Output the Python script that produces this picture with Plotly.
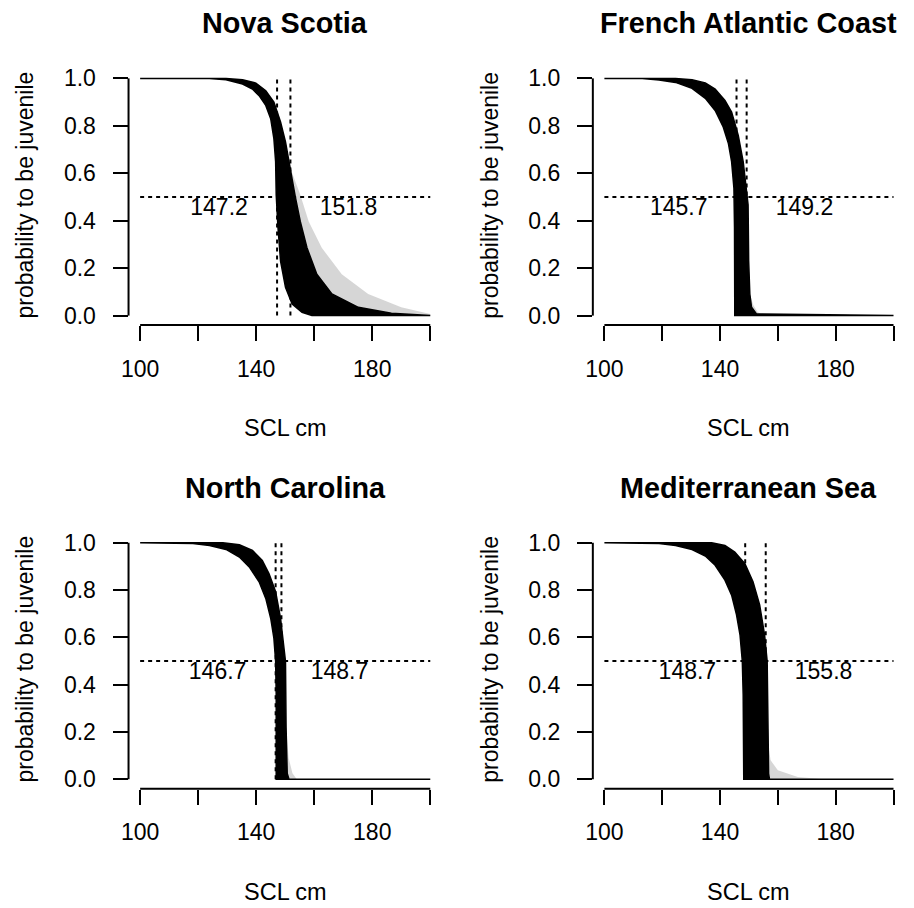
import plotly.graph_objects as go

W, H = 914, 908

# ---------------- data ----------------
titles = ["Nova Scotia", "French Atlantic Coast", "North Carolina", "Mediterranean Sea"]
ci_low = [147.2, 145.7, 146.7, 148.7]
ci_high = [151.8, 149.2, 148.7, 155.8]

x_ticks = [100, 120, 140, 160, 180, 200]
x_ticktext = ["100", "", "140", "", "180", ""]
y_ticks = [0.0, 0.2, 0.4, 0.6, 0.8, 1.0]
y_ticktext = ["0.0", "0.2", "0.4", "0.6", "0.8", "1.0"]

# lower (earliest-dropping) envelope of the bundle of curves
ns_lo_x = [100, 123.9, 129.6, 135.3, 138.7, 141.0, 143.3, 145.0, 146.1, 146.7, 146.9, 147.5, 148.4, 150.1, 152.4, 155.8, 159.2, 200]
ns_lo_y = [1.0, 1.0, 0.994, 0.976, 0.955, 0.927, 0.886, 0.830, 0.746, 0.649, 0.509, 0.374, 0.230, 0.119, 0.049, 0.014, 0.0, 0.0]
# upper (latest-dropping) envelope
ns_hi_x = [100, 129.6, 135.3, 139.9, 143.3, 146.1, 148.4, 150.1, 151.8, 153.5, 155.2, 157.5, 160.9, 166.1, 175.2, 186.6, 200]
ns_hi_y = [1.0, 1.0, 0.994, 0.980, 0.948, 0.900, 0.816, 0.732, 0.621, 0.499, 0.397, 0.286, 0.174, 0.091, 0.035, 0.010, 0.0]
# faint outer tail of a few curves
ns_fr_x = [151.8, 155.2, 158.1, 162.6, 169.5, 178.6, 190.0, 200]
ns_fr_y = [0.621, 0.509, 0.397, 0.286, 0.174, 0.091, 0.035, 0.007]

fa_lo_x = [100, 113.1, 118.9, 124.6, 130.3, 134.9, 138.3, 141.1, 142.9, 144.0, 144.8, 145.0, 145.1, 200]
fa_lo_y = [1.0, 0.999, 0.993, 0.983, 0.958, 0.916, 0.865, 0.795, 0.725, 0.649, 0.537, 0.370, 0.0, 0.0]
fa_hi_x = [100, 124.6, 130.3, 134.9, 138.3, 141.7, 144.0, 146.3, 148.0, 149.1, 149.7, 149.9, 150.3, 150.9, 152.6, 200]
fa_hi_y = [1.0, 1.0, 0.994, 0.981, 0.955, 0.907, 0.858, 0.760, 0.649, 0.537, 0.467, 0.230, 0.091, 0.035, 0.007, 0.0]
fa_fr_x = [150.3, 151.5, 153.0, 155.0]
fa_fr_y = [0.091, 0.045, 0.015, 0.0]

nc_lo_x = [100, 118.2, 123.9, 129.6, 134.2, 137.6, 141.0, 143.3, 145.0, 146.1, 146.7, 146.9, 146.9, 200]
nc_lo_y = [1.0, 0.997, 0.989, 0.972, 0.940, 0.898, 0.835, 0.765, 0.681, 0.597, 0.499, 0.359, 0.0, 0.0]
nc_hi_x = [100, 128.5, 134.2, 138.7, 142.1, 144.4, 146.7, 148.4, 149.5, 150.1, 150.3, 150.7, 151.3, 200]
nc_hi_y = [1.0, 1.0, 0.992, 0.968, 0.926, 0.870, 0.793, 0.681, 0.569, 0.499, 0.220, 0.024, 0.0, 0.0]
nc_fr_x = [150.3, 151.2, 152.5, 154.0]
nc_fr_y = [0.220, 0.090, 0.025, 0.0]

ms_lo_x = [100, 118.9, 124.6, 130.3, 134.9, 138.3, 141.7, 144.0, 145.7, 146.9, 147.7, 148.0, 148.2, 200]
ms_lo_y = [1.0, 0.997, 0.989, 0.972, 0.944, 0.905, 0.842, 0.779, 0.695, 0.611, 0.499, 0.359, 0.0, 0.0]
ms_hi_x = [100, 137.1, 141.7, 145.1, 148.6, 151.4, 153.7, 155.4, 156.3, 156.6, 156.8, 157.1, 200]
ms_hi_y = [1.0, 1.0, 0.989, 0.961, 0.912, 0.835, 0.737, 0.611, 0.499, 0.220, 0.024, 0.0, 0.0]
ms_fr_x = [156.6, 157.5, 160.0, 166.9, 176.0]
ms_fr_y = [0.150, 0.080, 0.038, 0.010, 0.0]

bands = [
    (ns_lo_x, ns_lo_y, ns_hi_x, ns_hi_y, ns_fr_x, ns_fr_y),
    (fa_lo_x, fa_lo_y, fa_hi_x, fa_hi_y, fa_fr_x, fa_fr_y),
    (nc_lo_x, nc_lo_y, nc_hi_x, nc_hi_y, nc_fr_x, nc_fr_y),
    (ms_lo_x, ms_lo_y, ms_hi_x, ms_hi_y, ms_fr_x, ms_fr_y),
]

# ---------------- layout (pixel geometry) ----------------
col_px = [(121.6, 437.7), (590.0, 905.0)]
row_px = [(66.4, 324.6), (534.5, 791.8)]

def px_x(p):
    return p / W

def px_y(p):
    return 1 - p / H

FONT = "Liberation Sans, Arial, Helvetica, sans-serif"
fig = go.Figure()
annotations = []
shapes = []

for i in range(4):
    r, c = divmod(i, 2)
    ax = "" if i == 0 else str(i + 1)
    xa, ya = "x" + ax, "y" + ax
    lo_x, lo_y, hi_x, hi_y, fr_x, fr_y = bands[i]

    # faint tail: fringe curve back along the part of the upper envelope it covers
    seg = [(x, y) for x, y in zip(hi_x, hi_y) if fr_x[0] <= x <= fr_x[-1]]
    tail_x = list(fr_x) + [p[0] for p in seg][::-1]
    tail_y = list(fr_y) + [p[1] for p in seg][::-1]
    fig.add_trace(go.Scatter(
        x=tail_x, y=tail_y,
        fill="toself", fillcolor="rgba(0,0,0,0.16)", line=dict(width=0),
        mode="lines", hoverinfo="skip", showlegend=False, xaxis=xa, yaxis=ya))
    # main black bundle
    fig.add_trace(go.Scatter(
        x=list(lo_x) + list(hi_x)[::-1], y=list(lo_y) + list(hi_y)[::-1],
        fill="toself", fillcolor="black", line=dict(color="black", width=1.5),
        mode="lines", hoverinfo="skip", showlegend=False, xaxis=xa, yaxis=ya))
    # dashed reference lines
    fig.add_trace(go.Scatter(
        x=[x_ticks[0], x_ticks[-1]], y=[0.5, 0.5], mode="lines",
        line=dict(color="black", width=2, dash="4px,4px"),
        hoverinfo="skip", showlegend=False, xaxis=xa, yaxis=ya))
    for v in (ci_low[i], ci_high[i]):
        fig.add_trace(go.Scatter(
            x=[v, v], y=[y_ticks[0], y_ticks[-1]], mode="lines",
            line=dict(color="black", width=2, dash="4px,4px"),
            hoverinfo="skip", showlegend=False, xaxis=xa, yaxis=ya))
    # value labels
    fig.add_trace(go.Scatter(
        x=[ci_low[i] - 20, ci_high[i] + 20], y=[0.45, 0.45], mode="text",
        text=[f"{ci_low[i]:.1f}", f"{ci_high[i]:.1f}"],
        textfont=dict(family=FONT, size=23, color="black"),
        textposition="middle center",
        hoverinfo="skip", showlegend=False, xaxis=xa, yaxis=ya))

    x0, x1 = col_px[c]
    y0, y1 = row_px[r]
    fig.layout["xaxis" + ax] = dict(
        domain=[px_x(x0), px_x(x1)], range=[96, 204], anchor=ya,
        showgrid=False, zeroline=False, showline=False,
        tickmode="array", tickvals=x_ticks, ticktext=x_ticktext,
        ticks="outside", ticklen=15, tickwidth=2, tickcolor="black",
        ticklabelstandoff=8,
        tickfont=dict(family=FONT, size=23, color="black"))
    fig.layout["yaxis" + ax] = dict(
        domain=[px_y(y1), px_y(y0)], range=[-0.04, 1.04], anchor=xa,
        showgrid=False, zeroline=False, showline=False,
        tickmode="array", tickvals=y_ticks, ticktext=y_ticktext,
        ticks="outside", ticklen=15, tickwidth=2, tickcolor="black",
        ticklabelstandoff=12,
        tickfont=dict(family=FONT, size=23, color="black"))

    # R-style axis lines spanning first to last tick
    shapes.append(dict(type="line", xref=xa, yref=ya + " domain",
                       x0=x_ticks[0], x1=x_ticks[-1], y0=0, y1=0,
                       line=dict(color="black", width=2)))
    shapes.append(dict(type="line", xref=xa + " domain", yref=ya,
                       x0=0, x1=0, y0=y_ticks[0], y1=y_ticks[-1],
                       line=dict(color="black", width=2)))

    cx = (x0 + x1) / 2
    annotations.append(dict(text="<b>" + titles[i] + "</b>", xref="paper", yref="paper",
                            x=px_x(cx), y=px_y(y0 - 46), xanchor="center", yanchor="middle",
                            showarrow=False, font=dict(family=FONT, size=28.8, color="black")))
    annotations.append(dict(text="SCL cm", xref="paper", yref="paper",
                            x=px_x(cx), y=px_y(y1 + 104), xanchor="center", yanchor="middle",
                            showarrow=False, font=dict(family=FONT, size=23.5, color="black")))
    annotations.append(dict(text="probability to be juvenile", xref="paper", yref="paper",
                            x=px_x(x0 - 104), y=px_y((y0 + y1) / 2 - 2), xanchor="center", yanchor="middle",
                            textangle=-90,
                            showarrow=False, font=dict(family=FONT, size=23, color="black")))

fig.update_layout(width=W, height=H, margin=dict(l=0, r=0, t=0, b=0),
                  paper_bgcolor="white", plot_bgcolor="white",
                  annotations=annotations, shapes=shapes, showlegend=False)

fig.write_html("out.html")
